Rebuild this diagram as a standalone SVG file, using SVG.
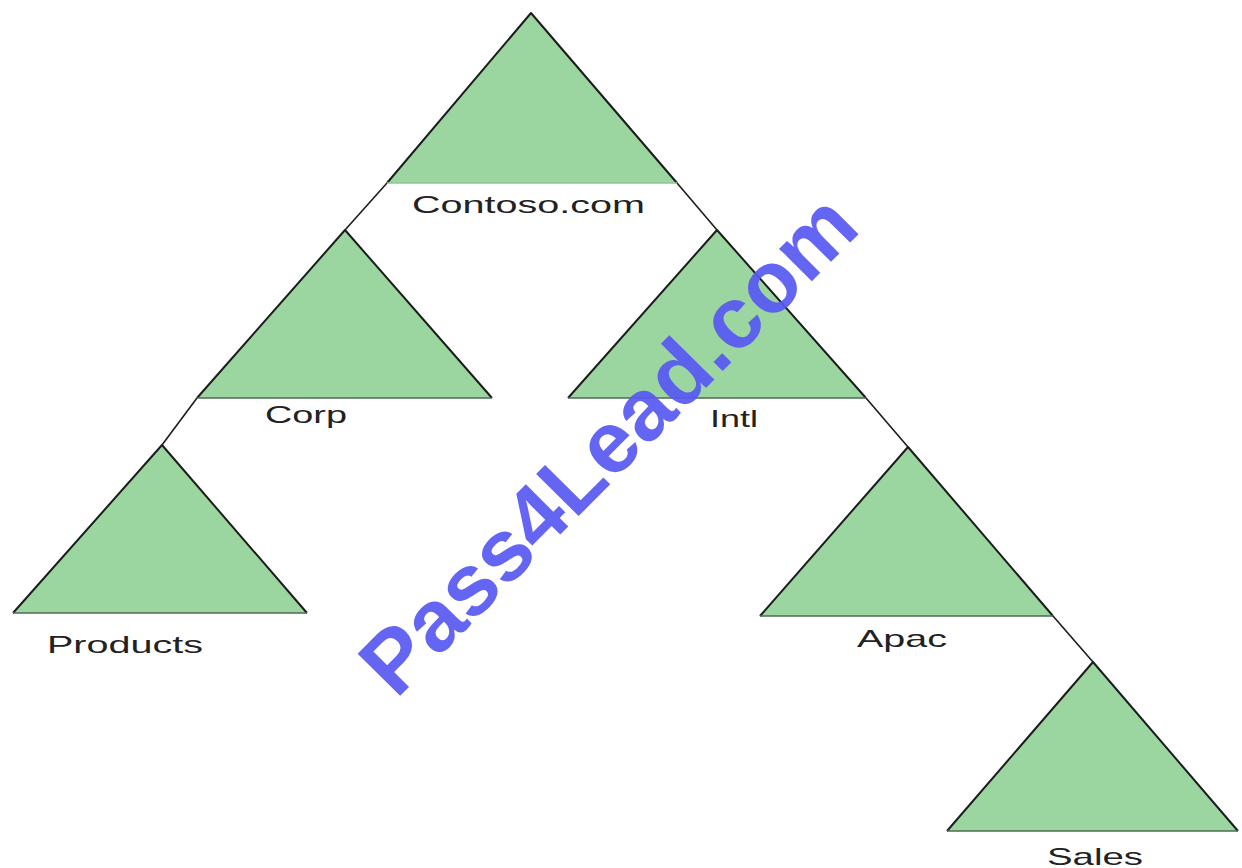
<svg xmlns="http://www.w3.org/2000/svg" width="1242" height="868" viewBox="0 0 1242 868">
  <style>
    .tri { fill: #9bd5a0; stroke: none; }
    .side { fill: none; stroke: #1c1c1c; stroke-width: 2; stroke-linejoin: round; }
    .base { stroke: #4f6a52; stroke-width: 1.5; }
    .conn { stroke: #1c1c1c; stroke-width: 1.6; fill: none; }
    .lbl { font-family: "Liberation Sans", Arial, sans-serif; font-size: 24px; fill: #222222; }
    .wm { font-family: "Liberation Sans", Arial, sans-serif; font-weight: bold; font-size: 87px; fill: #5858f2; fill-opacity: 0.92; }
  </style>
  <rect width="1242" height="868" fill="#ffffff"/>

  <g id="connectors">
    <line class="conn" x1="387" y1="183" x2="345" y2="230"/>
    <line class="conn" x1="677" y1="183" x2="717" y2="230"/>
    <line class="conn" x1="197" y1="398" x2="162" y2="445"/>
    <line class="conn" x1="866" y1="398" x2="908" y2="447"/>
    <line class="conn" x1="1053" y1="616" x2="1093" y2="662"/>
  </g>

  <g id="node-contoso">
    <polygon class="tri" points="531,13 677,183 387,183"/>
    <polyline class="side" points="387,183 531,13 677,183"/>
    <line x1="387" y1="183" x2="677" y2="183" stroke="#8cc896" stroke-width="1.5"/>
    <text class="lbl" x="412" y="213" textLength="233" lengthAdjust="spacingAndGlyphs">Contoso.com</text>
  </g>

  <g id="node-corp">
    <polygon class="tri" points="345,230 492,398 197,398"/>
    <polyline class="side" points="197,398 345,230 492,398"/>
    <line class="base" x1="197" y1="398" x2="492" y2="398"/>
    <text class="lbl" x="265" y="423" textLength="82" lengthAdjust="spacingAndGlyphs">Corp</text>
  </g>

  <g id="node-intl">
    <polygon class="tri" points="717,230 866,398 568,398"/>
    <polyline class="side" points="568,398 717,230 866,398"/>
    <line class="base" x1="568" y1="398" x2="866" y2="398"/>
    <text class="lbl" x="710" y="427" textLength="48" lengthAdjust="spacingAndGlyphs">Intl</text>
  </g>

  <g id="node-products">
    <polygon class="tri" points="162,445 307,613 13,613"/>
    <polyline class="side" points="13,613 162,445 307,613"/>
    <line class="base" x1="13" y1="613" x2="307" y2="613"/>
    <text class="lbl" x="47" y="653" textLength="156" lengthAdjust="spacingAndGlyphs">Products</text>
  </g>

  <g id="node-apac">
    <polygon class="tri" points="908,447 1053,616 760,616"/>
    <polyline class="side" points="760,616 908,447 1053,616"/>
    <line class="base" x1="760" y1="616" x2="1053" y2="616"/>
    <text class="lbl" x="857" y="647" textLength="90" lengthAdjust="spacingAndGlyphs">Apac</text>
  </g>

  <g id="node-sales">
    <polygon class="tri" points="1093,662 1238,831 947,831"/>
    <polyline class="side" points="947,831 1093,662 1238,831"/>
    <line class="base" x1="947" y1="831" x2="1238" y2="831"/>
    <text class="lbl" x="1047" y="865" textLength="96" lengthAdjust="spacingAndGlyphs">Sales</text>
  </g>

  <g id="watermark">
    <text class="wm" transform="translate(396,700) rotate(-45.2)" x="0" y="0" textLength="662" lengthAdjust="spacingAndGlyphs">Pass4Lead.com</text>
  </g>
</svg>
